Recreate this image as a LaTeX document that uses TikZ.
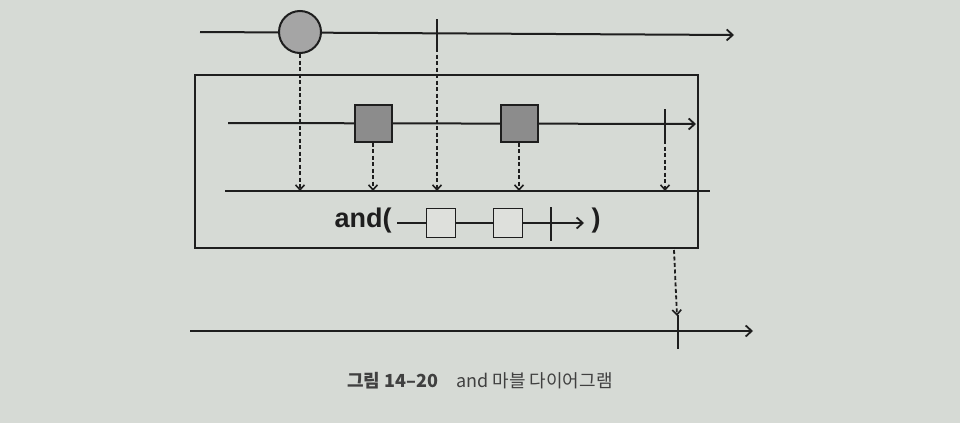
\documentclass[tikz,border=0pt]{standalone}
\usepackage{fontspec}
\newfontfamily\krfont{Noto Sans CJK KR}
\newfontfamily\labelfont{Liberation Sans}
\usetikzlibrary{arrows.meta}

\definecolor{paper}{RGB}{214,218,213}
\definecolor{ink}{RGB}{30,30,30}
\definecolor{circfill}{RGB}{165,165,165}
\definecolor{boxfill}{RGB}{140,140,140}
\definecolor{litefill}{RGB}{222,224,220}

\tikzset{
	line/.style={draw=ink, line width=2pt},
	flow/.style={line, -{Straight Barb[length=6pt,width=11pt,line width=1.8pt]}},
	drop/.style={draw=ink, line width=1.8pt, dash pattern=on 4pt off 2.5pt, -{Straight Barb[length=5pt,width=9pt,line width=1.6pt]}},
	item/.style={draw=ink, line width=2pt, inner sep=0pt, minimum size=37pt},
	smallitem/.style={item, fill=litefill, line width=1.8pt, minimum size=29pt},
	endmark/.style={draw=ink, line width=2.4pt},
}

\begin{document}
\begin{tikzpicture}[x=1pt, y=-1pt]
		%%%%% START %%%%%
		\fill[paper] (0,0) rectangle (960,423);
		\useasboundingbox (0,0) rectangle (960,423);
		
		% source stream
		\coordinate (top0) at (200,32);
		\coordinate (top1) at (734,35);
		\draw[flow] (top0) -- (top1);
		\node[item, circle, fill=circfill, minimum size=42pt] (c1) at (300,32) {};
		\coordinate (t1a) at (437,19);
		\coordinate (t1b) at (437,48);
		\draw[endmark] (t1a) -- (t1b);
		
		% operator box
		\coordinate (boxnw) at (195,75);
		\coordinate (boxse) at (698,248);
		\draw[line] (boxnw) rectangle (boxse);
		
		% other stream
		\coordinate (in0) at (228,123);
		\coordinate (in1) at (696,124);
		\draw[flow] (in0) -- (in1);
		\node[item, fill=boxfill] (s1) at (373,123) {};
		\node[item, fill=boxfill] (s2) at (519,123) {};
		\coordinate (t2a) at (665,109);
		\coordinate (t2b) at (665,140);
		\draw[endmark] (t2a) -- (t2b);
		
		% merge line
		\coordinate (m0) at (225,191);
		\coordinate (m1) at (710,191);
		\draw[line] (m0) -- (m1);
		\draw[drop] (c1.south) -- (c1.south |- m0);
		\draw[drop] (s1.south) -- (s1.south |- m0);
		\draw[drop] (t1b) -- (t1b |- m0);
		\draw[drop] (s2.south) -- (s2.south |- m0);
		\draw[drop] (t2b) -- (t2b |- m0);
		
		% and( ... )
		\node[text=ink, font=\labelfont\bfseries\fontsize{27}{32}\selectfont] (andlbl) at (363,221) {and(};
		\coordinate (a0) at (397,223);
		\coordinate (a1) at (584,223);
		\draw[flow] (a0) -- (a1);
		\node[smallitem] (w1) at (441,223) {};
		\node[smallitem] (w2) at (508,223) {};
		\draw[endmark] (551,207) -- (551,241);
		\node[text=ink, font=\labelfont\bfseries\fontsize{27}{32}\selectfont] (closelbl) at (596,221) {)};
		
		% result stream
		\coordinate (out0) at (190,331);
		\coordinate (out1) at (753,331);
		\draw[flow] (out0) -- (out1);
		\coordinate (t3a) at (678,315);
		\coordinate (t3b) at (678,349);
		\draw[endmark] (t3a) -- (t3b);
		\draw[drop] (674,250) -- (677,316);
		
		% caption
		\node[text=ink!85, font=\krfont\fontsize{18}{22}\selectfont] (caption) at (480,381)
			{\textbf{그림 14–20}\hspace{18pt}and 마블 다이어그램};
		
		%%%%% END %%%%%
\end{tikzpicture}
\end{document}
